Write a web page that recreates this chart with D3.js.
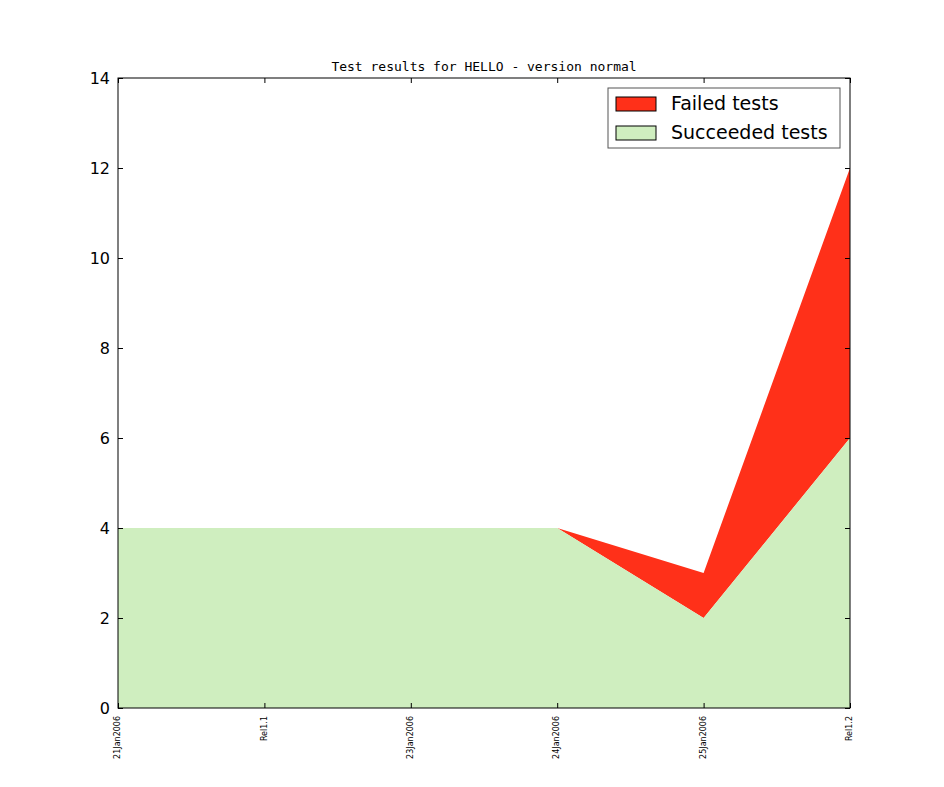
<!DOCTYPE html>
<html><head><meta charset="utf-8">
<script src="https://cdn.jsdelivr.net/npm/d3@7"></script>
<style>body{margin:0;background:#fff}</style></head>
<body><svg id="c" width="944" height="787"></svg>
<script>
const categories=["21Jan2006","Rel1.1","23Jan2006","24Jan2006","25Jan2006","Rel1.2"];
const succeeded=[4,4,4,4,2,6];
const failed=[0,0,0,0,1,6];
const yTicks=[0,2,4,6,8,10,12,14];
const svg=d3.select("#c");
const L=118,R=850,T=78,B=708;
const x=d3.scalePoint().domain(categories).range([L,R]);
const y=d3.scaleLinear().domain([0,14]).range([B,T]);
const data=categories.map((c,i)=>({c,s:succeeded[i],f:failed[i]}));
svg.append("path").datum(data).attr("fill","#ff3019")
 .attr("d",d3.area().x(d=>x(d.c)).y0(d=>y(d.s)).y1(d=>y(d.s+d.f)));
svg.append("path").datum(data).attr("fill","#cfeebf")
 .attr("d",d3.area().x(d=>x(d.c)).y0(y(0)).y1(d=>y(d.s)));
svg.append("rect").attr("x",L).attr("y",T).attr("width",R-L).attr("height",B-T)
 .attr("fill","none").attr("stroke","#000");
const ya=svg.append("g").attr("transform",`translate(${L},0)`)
 .call(d3.axisLeft(y).tickValues(yTicks).tickSizeInner(-5).tickSizeOuter(0).tickPadding(8));
const ya2=svg.append("g").attr("transform",`translate(${R},0)`)
 .call(d3.axisRight(y).tickValues(yTicks).tickSizeInner(-5).tickSizeOuter(0).tickFormat(""));
ya.selectAll("text").attr("font-family","DejaVu Sans").attr("font-size",16).attr("fill","#000");
const xa=svg.append("g").attr("transform",`translate(0,${B})`)
 .call(d3.axisBottom(x).tickSizeInner(-5).tickSizeOuter(0));
xa.selectAll("text").attr("font-family","DejaVu Sans").attr("font-size",8).attr("fill","#000")
 .attr("transform","rotate(-90)").attr("text-anchor","end").attr("dx","-4").attr("dy","-0.1em").attr("y",0).attr("x",-4)
 .style("dominant-baseline","central");
svg.append("g").attr("transform",`translate(0,${T})`)
 .call(d3.axisTop(x).tickSizeInner(-5).tickSizeOuter(0).tickFormat(""));
svg.selectAll(".domain").remove();
svg.append("text").attr("x",484).attr("y",71).attr("text-anchor","middle")
 .attr("font-family","DejaVu Sans Mono").attr("font-size",13).text("Test results for HELLO - version normal");
const lg=svg.append("g");
lg.append("rect").attr("x",608).attr("y",88).attr("width",232).attr("height",60).attr("fill","#fff").attr("stroke","#555");
[["Failed tests","#ff3019",104],["Succeeded tests","#cfeebf",133]].forEach(([t,c,yy])=>{
 lg.append("rect").attr("x",616).attr("y",yy-7).attr("width",40).attr("height",14).attr("fill",c).attr("stroke","#000");
 lg.append("text").attr("x",671).attr("y",yy+6).attr("font-family","DejaVu Sans").attr("font-size",19).text(t);
});
</script></body></html>
